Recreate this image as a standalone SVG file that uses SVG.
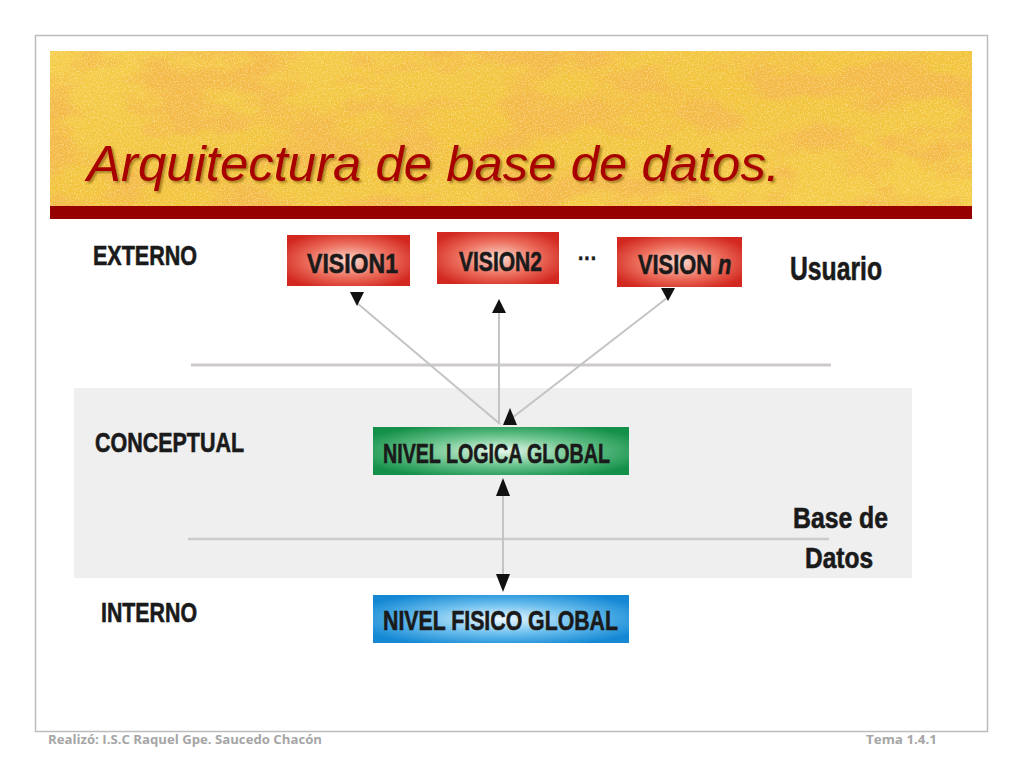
<svg xmlns="http://www.w3.org/2000/svg" width="1024" height="768" viewBox="0 0 1024 768">
<defs>
<style>
.lbl{font-family:"Liberation Sans",Arial,sans-serif;font-weight:bold;fill:#1a1a1a;stroke:#1a1a1a;stroke-width:0.6;}
.sep{stroke:#cfcaca;fill:none;}
.conn{stroke:#c4c4c4;stroke-width:2;fill:none;}
.head{fill:#111;}
.foot{font-family:"Open Sans","Liberation Sans",sans-serif;font-weight:bold;font-size:12px;fill:#a6a6a6;}
</style>
<radialGradient id="gRed" cx="50%" cy="50%" r="60%">
<stop offset="0" stop-color="#fbd9cc"/><stop offset="0.55" stop-color="#ec6d5c"/><stop offset="1" stop-color="#d2281f"/>
</radialGradient>
<radialGradient id="gGreen" cx="50%" cy="50%" r="60%">
<stop offset="0" stop-color="#e6f7ec"/><stop offset="0.5" stop-color="#6cc58e"/><stop offset="1" stop-color="#14904a"/>
</radialGradient>
<radialGradient id="gBlue" cx="50%" cy="50%" r="60%">
<stop offset="0" stop-color="#eef8ff"/><stop offset="0.5" stop-color="#6ec0ee"/><stop offset="1" stop-color="#1488d4"/>
</radialGradient>
<linearGradient id="gGold" x1="0" y1="0" x2="1" y2="1">
<stop offset="0" stop-color="#f5cc48"/><stop offset="0.5" stop-color="#f2c23a"/><stop offset="1" stop-color="#f5cc46"/>
</linearGradient>
<filter id="streak" x="0" y="0" width="100%" height="100%">
<feTurbulence type="fractalNoise" baseFrequency="0.014 0.03" numOctaves="4" seed="7"/>
<feColorMatrix type="matrix" values="0 0 0 0 0.90  0 0 0 0 0.48  0 0 0 0 0.06  0 0 0 4.2 -1.75"/>
<feComposite in2="SourceGraphic" operator="in"/>
</filter>
<filter id="grain" x="0" y="0" width="100%" height="100%">
<feTurbulence type="fractalNoise" baseFrequency="0.7" numOctaves="2" seed="3"/>
<feColorMatrix type="matrix" values="0 0 0 0 1  0 0 0 0 0.93  0 0 0 0 0.6  0 0 0 2.5 -1.1"/>
<feComposite in2="SourceGraphic" operator="in"/>
</filter>
<filter id="shadow" x="-5%" y="-20%" width="110%" height="140%">
<feDropShadow dx="2" dy="2" stdDeviation="1.2" flood-color="#6b4a00" flood-opacity="0.55"/>
</filter>
</defs>

<rect x="0" y="0" width="1024" height="768" fill="#ffffff"/>
<rect x="35.5" y="35.5" width="952" height="696" fill="#ffffff" stroke="#bcbcbc" stroke-width="1.5"/>

<g id="header">
<rect x="50" y="51" width="922" height="156" fill="url(#gGold)"/>
<rect x="50" y="51" width="922" height="156" fill="#ffffff" filter="url(#streak)"/>
<rect x="50" y="51" width="922" height="156" fill="#ffffff" opacity="0.5" filter="url(#grain)"/>
<rect x="50" y="206" width="922" height="13" fill="#960000"/>
<text x="87" y="181" font-family="'Liberation Sans',Arial,sans-serif" font-style="italic" font-size="50" fill="#a80000" textLength="693" lengthAdjust="spacingAndGlyphs" filter="url(#shadow)">Arquitectura de base de datos.</text>
</g>

<g id="conceptual-band">
<rect x="74" y="388" width="838" height="190" fill="#efefef"/>
</g>
<g id="separators">
<line class="sep" x1="191" y1="365" x2="831" y2="365" stroke-width="3" stroke="#d2d0d0"/>
<line class="sep" x1="188" y1="539" x2="829" y2="539" stroke-width="2.5" stroke="#c9bfbf"/>
</g>

<g id="level-labels">
<text class="lbl" x="93" y="265" font-size="27" textLength="104" lengthAdjust="spacingAndGlyphs">EXTERNO</text>
<text class="lbl" x="95" y="452" font-size="27" textLength="149" lengthAdjust="spacingAndGlyphs">CONCEPTUAL</text>
<text class="lbl" x="101" y="622" font-size="27" textLength="96" lengthAdjust="spacingAndGlyphs">INTERNO</text>
<text class="lbl" x="790" y="280" font-size="33" textLength="92" lengthAdjust="spacingAndGlyphs">Usuario</text>
<text class="lbl" x="793" y="528" font-size="29" textLength="95" lengthAdjust="spacingAndGlyphs">Base de</text>
<text class="lbl" x="805" y="568" font-size="29" textLength="68" lengthAdjust="spacingAndGlyphs">Datos</text>
</g>

<g id="connectors">
<line class="conn" x1="357" y1="303" x2="500" y2="424"/>
<line class="conn" x1="499" y1="310" x2="499" y2="424"/>
<line class="conn" x1="667" y1="298" x2="512" y2="418"/>
<line class="conn" x1="503" y1="492" x2="503" y2="578"/>
<path class="head" d="M350,292 L364,292 L357,306 Z"/>
<path class="head" d="M499,299 L506,313 L492,313 Z"/>
<path class="head" d="M661,288 L675,288 L668,301 Z"/>
<path class="head" d="M510,408 L517,425 L503,425 Z"/>
<path class="head" d="M503,478 L510,496 L496,496 Z"/>
<path class="head" d="M496,574 L510,574 L503,592 Z"/>
</g>

<g id="vision1">
<rect x="287" y="235" width="123" height="51" fill="url(#gRed)"/>
<text class="lbl" x="307" y="273" font-size="28" textLength="91" lengthAdjust="spacingAndGlyphs">VISION1</text>
</g>
<g id="vision2">
<rect x="437" y="232" width="122" height="52" fill="url(#gRed)"/>
<text class="lbl" x="459" y="271" font-size="28" textLength="83" lengthAdjust="spacingAndGlyphs">VISION2</text>
</g>
<g id="ellipsis">
<text class="lbl" x="578" y="266" font-size="22" textLength="19" lengthAdjust="spacingAndGlyphs">···</text>
</g>
<g id="visionn">
<rect x="617" y="237" width="125" height="50" fill="url(#gRed)"/>
<text class="lbl" font-size="28" transform="translate(638,274) scale(0.78,1)" x="0" y="0">VISION <tspan font-style="italic">n</tspan></text>
</g>
<g id="nivel-logica">
<rect x="373" y="427" width="256" height="48" fill="url(#gGreen)"/>
<text class="lbl" x="383" y="463" font-size="27" textLength="227" lengthAdjust="spacingAndGlyphs">NIVEL LOGICA GLOBAL</text>
</g>
<g id="nivel-fisico">
<rect x="373" y="595" width="256" height="48" fill="url(#gBlue)"/>
<text class="lbl" x="383" y="630" font-size="27" textLength="235" lengthAdjust="spacingAndGlyphs">NIVEL FISICO GLOBAL</text>
</g>

<g id="footer">
<text class="foot" x="48" y="744" textLength="274" lengthAdjust="spacingAndGlyphs">Realizó: I.S.C  Raquel Gpe. Saucedo Chacón</text>
<text class="foot" x="866" y="744" textLength="71" lengthAdjust="spacingAndGlyphs">Tema 1.4.1</text>
</g>
</svg>
